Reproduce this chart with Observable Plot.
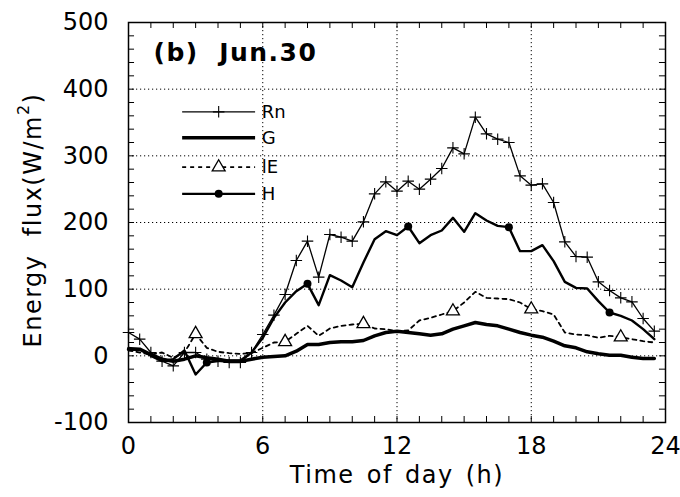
<!DOCTYPE html>
<html><head><meta charset="utf-8">
<script src="https://cdn.jsdelivr.net/npm/d3@7"></script>
<script src="https://cdn.jsdelivr.net/npm/@observablehq/plot@0.6"></script>
<style>body{margin:0;background:#fff}</style>
</head><body><div id="chart"></div>
<script>
// ---- data ----
const hours = [0,0.5,1,1.5,2,2.5,3,3.5,4,4.5,5,5.5,6,6.5,7,7.5,8,8.5,9,9.5,10,10.5,11,11.5,12,12.5,13,13.5,14,14.5,15,15.5,16,16.5,17,17.5,18,18.5,19,19.5,20,20.5,21,21.5,22,22.5,23,23.5];
const rn = [35,25,5,-8,-15,5,5,-5,-8,-10,-10,5,32,61,92,143,172,118,182,178,172,201,243,261,247,262,250,265,281,312,303,358,333,325,320,270,256,258,230,171,149,148,111,98,87,81,56,37];
const g  = [10,10,2,-5,-8,-5,0,-3,-5,-8,-8,-5,-2,-1,0,7,17,17,20,21,21,23,30,35,37,35,33,31,33,40,45,50,47,45,40,35,31,28,22,15,12,6,3,1,1,-2,-4,-4];
const le = [8,5,2,5,-3,5,33,12,6,4,3,4,12,20,21,33,45,30,41,45,47,48,41,40,37,38,53,57,62,67,80,96,87,86,85,80,70,67,62,35,32,31,27,30,28,25,22,20];
const h  = [12,10,0,-8,-5,8,-28,-10,-8,-7,-7,5,27,57,80,97,108,76,121,113,103,140,175,187,181,194,169,181,188,207,186,214,203,195,193,157,157,166,142,111,102,101,82,65,60,53,40,25];
const hMarkerHours = [3.5,8,12.5,17,21.5];
const leMarkerHours = [3,7,10.5,14.5,18,22];
const xTicks = [0,6,12,18,24];
const yTicks = [-100,0,100,200,300,400,500];
const xGrid = [6,12,18];
const yGrid = [0,100,200,300,400];
const minorX = [1,2,3,4,5,6,7,8,9,10,11,12,13,14,15,16,17,18,19,20,21,22,23];
const minorY = [-80,-60,-40,-20,0,20,40,60,80,100,120,140,160,180,200,220,240,260,280,300,320,340,360,380,400,420,440,460,480];
const legendNames = ["Rn","G","lE","H"];
const title = "(b)  Jun.30";
const xLabel = "Time of day (h)";

// ---- derived tables ----
const series = (vals) => hours.map((t, i) => ({t, v: vals[i]}));
const rnData = series(rn), gData = series(g), leData = series(le), hData = series(h);
const pick = (data, ts) => data.filter(d => ts.includes(d.t));
const legendY = [366, 327, 283, 243];
const legend = legendNames.map((name, i) => ({name, y: legendY[i]}));

const chart = Plot.plot({
  width: 680, height: 497,
  marginLeft: 128, marginRight: 15, marginTop: 22, marginBottom: 75,
  style: {fontFamily: "DejaVu Sans", fontSize: "24px", color: "black", background: "white"},
  x: {domain: [0, 24], label: null},
  y: {domain: [-100, 500], label: null},
  marks: [
    Plot.ruleX(xGrid, {stroke: "black", strokeWidth: 1, strokeDasharray: "1.2,2.8"}),
    Plot.ruleY(yGrid, {stroke: "black", strokeWidth: 1, strokeDasharray: "1.2,2.8"}),
    // inward minor ticks
    Plot.ruleX(minorX, {y1: -100, y2: -91, stroke: "black", strokeWidth: 1}),
    Plot.ruleX(minorX, {y1: 500, y2: 491, stroke: "black", strokeWidth: 1}),
    Plot.ruleY(minorY, {x1: 0, x2: 0.27, stroke: "black", strokeWidth: 1}),
    Plot.ruleY(minorY, {x1: 24, x2: 23.73, stroke: "black", strokeWidth: 1}),
    Plot.frame({stroke: "black", strokeWidth: 1.5}),
    Plot.axisX({ticks: xTicks, tickSize: 0, tickPadding: 14, tickFormat: d => String(d), fontSize: 24, label: null}),
    Plot.axisY({ticks: yTicks, tickSize: 0, tickPadding: 20, tickFormat: d => String(d), fontSize: 24, label: null}),
    // series
    Plot.line(gData, {x: "t", y: "v", stroke: "black", strokeWidth: 3.5}),
    Plot.line(leData, {x: "t", y: "v", stroke: "black", strokeWidth: 1.8, strokeDasharray: "4,4"}),
    Plot.line(hData, {x: "t", y: "v", stroke: "black", strokeWidth: 2.4}),
    Plot.line(rnData, {x: "t", y: "v", stroke: "black", strokeWidth: 1.3}),
    Plot.dot(rnData, {x: "t", y: "v", symbol: "plus", r: 3.8, stroke: "black", strokeWidth: 1.1}),
    Plot.dot(pick(hData, hMarkerHours), {x: "t", y: "v", r: 4, fill: "black"}),
    Plot.dot(pick(leData, leMarkerHours), {x: "t", y: "v", symbol: "triangle", r: 4.8, fill: "white", stroke: "black", strokeWidth: 1.3}),
    // legend
    Plot.ruleY([legend[0]], {y: "y", x1: 2.42, x2: 5.68, stroke: "black", strokeWidth: 1.3}),
    Plot.dot([legend[0]], {y: "y", x: 4.03, symbol: "plus", r: 3.8, stroke: "black", strokeWidth: 1.1}),
    Plot.ruleY([legend[1]], {y: "y", x1: 2.42, x2: 5.68, stroke: "black", strokeWidth: 3.5}),
    Plot.ruleY([legend[2]], {y: "y", x1: 2.42, x2: 5.68, stroke: "black", strokeWidth: 1.8, strokeDasharray: "4,4"}),
    Plot.dot([legend[2]], {y: "y", x: 4.03, symbol: "triangle", r: 4.8, fill: "white", stroke: "black", strokeWidth: 1.3}),
    Plot.ruleY([legend[3]], {y: "y", x1: 2.42, x2: 5.68, stroke: "black", strokeWidth: 2.4}),
    Plot.dot([legend[3]], {y: "y", x: 4.03, r: 4, fill: "black"}),
    Plot.text(legend, {x: 5.95, y: "y", text: "name", textAnchor: "start", fontSize: 18}),
    // title and x label
    Plot.text([title], {frameAnchor: "top-left", dx: 25, dy: 30, text: d => d, textAnchor: "start", lineAnchor: "middle", fontSize: 25, fontWeight: "bold", className: "ttl"}),
    Plot.text([xLabel], {frameAnchor: "bottom", dy: 53, text: d => d, lineAnchor: "middle", fontSize: 24, className: "xlab"})
  ]
});
document.getElementById("chart").appendChild(chart);

const svg = d3.select(chart);
svg.selectAll(".ttl text").attr("letter-spacing", "1.5px");
svg.selectAll(".xlab text").attr("letter-spacing", "1.5px").attr("word-spacing", "3px");

// y-axis label with superscript
const yl = svg.append("text")
  .attr("transform", "translate(33,220) rotate(-90)")
  .attr("text-anchor", "middle")
  .attr("dominant-baseline", "central")
  .attr("font-size", 24)
  .attr("font-family", "DejaVu Sans")
  .attr("letter-spacing", "1.5px")
  .attr("fill", "black");
yl.append("tspan").text("Energy  flux(W/m");
yl.append("tspan").attr("dy", -10).attr("font-size", 16).text("2");
yl.append("tspan").attr("dy", 10).text(")");
</script>
</body></html>
